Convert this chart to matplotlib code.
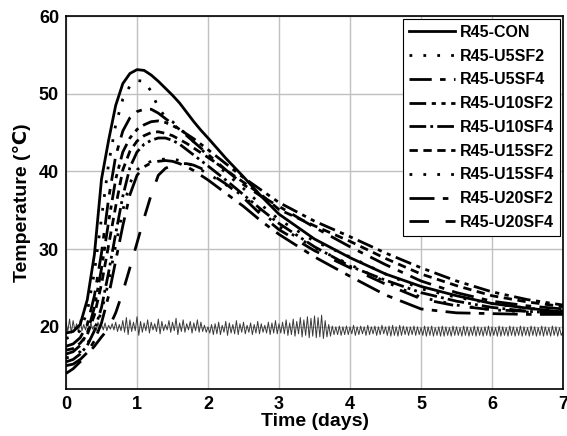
import numpy as np
import matplotlib
matplotlib.use("Agg")
import matplotlib.pyplot as plt

plt.rcParams["font.family"] = ["Liberation Sans", "DejaVu Sans"]

# time grid (days) shared by the mix curves
days = [0, 0.1, 0.2, 0.3, 0.4, 0.5, 0.6, 0.7, 0.8, 0.9, 1.0, 1.1, 1.2, 1.3, 1.4,
        1.5, 1.6, 1.7, 1.8, 1.9, 2.0, 2.25, 2.5, 2.75, 3.0, 3.5, 4.0, 4.5, 5.0,
        5.5, 6.0, 6.5, 7.0]

con = [19.2, 19.4, 20.3, 23.5, 29.3, 39.0, 44.0, 48.5, 51.3, 52.6, 53.1, 53.0,
       52.4, 51.6, 50.7, 49.8, 48.8, 47.6, 46.4, 45.3, 44.3, 41.7, 39.3, 36.8,
       34.5, 31.3, 28.9, 26.8, 25.2, 24.0, 23.0, 22.4, 21.9]
u5sf2 = [18.5, 18.8, 19.5, 22.0, 27.0, 34.0, 41.0, 46.0, 49.3, 51.0, 51.7, 51.6,
         50.3, 48.2, 47.0, 46.4, 45.6, 44.7, 43.8, 42.9, 42.0, 39.8, 37.8, 35.7,
         33.8, 31.0, 29.0, 26.8, 24.9, 23.8, 23.0, 22.4, 22.0]
u5sf4 = [17.5, 17.8, 18.6, 20.3, 24.0, 29.5, 36.5, 42.0, 45.2, 46.9, 47.7, 48.0,
         48.0, 47.5, 46.8, 46.1, 45.4, 44.6, 43.8, 43.0, 42.2, 40.2, 38.3, 36.8,
         35.5, 32.8, 30.3, 28.0, 25.9, 24.4, 23.3, 22.7, 22.3]
u10sf2 = [16.5, 16.8, 17.6, 19.2, 22.5, 27.5, 33.5, 39.0, 42.5, 44.3, 45.4, 46.0,
          46.4, 46.5, 46.3, 45.9, 45.4, 44.8, 44.2, 43.5, 42.8, 41.0, 39.2, 37.6,
          36.0, 33.6, 31.6, 29.5, 27.6, 25.9, 24.5, 23.5, 22.8]
u10sf4 = [15.5, 15.8, 16.5, 17.6, 19.5, 22.5, 27.0, 32.0, 36.8, 40.5, 42.5, 43.5,
          44.0, 44.3, 44.3, 44.0, 43.5, 42.8, 42.1, 41.4, 40.7, 38.9, 37.0, 35.1,
          33.3, 30.3, 27.8, 26.0, 24.4, 23.3, 22.5, 22.0, 21.7]
u15sf2 = [17.0, 17.2, 17.9, 19.0, 21.5, 25.5, 30.5, 35.5, 40.2, 42.6, 43.9, 44.6,
          45.0, 45.1, 44.9, 44.6, 44.1, 43.6, 43.0, 42.4, 41.8, 40.2, 38.6, 37.0,
          35.1, 33.0, 31.0, 28.8, 26.8, 25.3, 24.0, 23.2, 22.6]
u15sf4 = [16.0, 16.2, 16.8, 17.8, 19.5, 22.0, 25.8, 30.5, 35.0, 38.5, 40.2, 40.9,
          41.3, 41.5, 41.6, 41.6, 41.4, 41.1, 40.7, 40.2, 39.7, 38.3, 36.8, 34.8,
          32.9, 30.2, 28.0, 25.8, 23.8, 22.8, 22.2, 21.9, 21.8]
u20sf2 = [15.0, 15.2, 15.8, 16.7, 18.2, 20.5, 24.0, 28.5, 33.0, 37.0, 39.5, 40.6,
          41.1, 41.3, 41.4, 41.3, 41.0, 40.6, 40.1, 39.5, 38.9, 37.2, 35.5, 33.6,
          31.9, 29.0, 26.5, 24.1, 22.3, 21.8, 21.7, 21.6, 21.6]
u20sf4 = [14.0, 14.6, 15.5, 16.5, 17.5, 18.7, 19.8, 21.8, 24.5, 27.6, 30.8, 34.0,
          37.0, 39.5, 40.4, 40.8, 41.0, 41.0, 40.8, 40.4, 39.9, 38.4, 36.6, 34.4,
          32.5, 29.8, 27.6, 25.5, 23.6, 22.7, 22.2, 22.0, 21.9]

labels = ["R45-CON", "R45-U5SF2", "R45-U5SF4", "R45-U10SF2", "R45-U10SF4",
          "R45-U15SF2", "R45-U15SF4", "R45-U20SF2", "R45-U20SF4"]
series = [con, u5sf2, u5sf4, u10sf2, u10sf4, u15sf2, u15sf4, u20sf2, u20sf4]
styles = ["-", (0, (1, 4)), (0, (8, 3, 2, 3)), (0, (6, 2, 1.5, 2, 1.5, 2)),
          (0, (6, 1.5, 1, 1.5, 6, 1.5, 1, 1.5, 1, 1.5)), (0, (3, 2)),
          (0, (1, 4)), (0, (9, 3, 2, 3)), (0, (7, 6))]

# ambient temperature record (every 0.025 day)
ambient = [
    20.6, 19.4, 21.0, 19.2, 20.8, 19.6, 20.4, 19.3, 20.9, 19.5, 20.3, 19.6, 20.7, 19.4, 20.5, 19.7, 20.2, 19.5, 20.6, 19.8,
    20.3, 19.6, 20.5, 19.5, 20.2, 19.7, 20.4, 19.6, 20.6, 19.4, 20.3, 19.5, 20.8, 19.3, 21.2, 19.0, 20.9, 19.4, 20.6, 19.5,
    21.3, 18.9, 20.7, 19.3, 20.5, 19.5, 20.9, 19.2, 20.6, 19.6, 20.4, 19.4, 21.0, 19.1, 20.7, 19.5, 20.3, 19.6, 20.8, 19.3,
    20.6, 19.5, 21.1, 19.0, 20.5, 19.4, 20.9, 19.3, 20.4, 19.6, 20.7, 19.2, 20.5, 19.5, 20.9, 19.3, 20.6, 19.4, 20.2, 19.3,
    20.0, 19.2, 20.3, 19.0, 20.4, 19.1, 20.6, 19.0, 20.2, 19.3, 20.7, 18.9, 20.5, 19.2, 20.3, 19.1, 20.8, 19.0, 20.4, 19.3,
    20.6, 19.1, 20.2, 19.3, 20.5, 19.0, 20.3, 19.2, 20.7, 19.1, 20.4, 19.3, 20.2, 19.2, 20.6, 19.0, 20.5, 19.2, 20.8, 19.1,
    20.4, 19.2, 20.6, 19.1, 20.9, 18.9, 20.5, 19.0, 21.0, 18.8, 20.7, 19.1, 21.2, 18.7, 20.9, 18.9, 21.3, 18.6, 21.1, 18.8,
    21.4, 18.6, 21.2, 18.7, 21.5, 18.5, 20.8, 18.7, 20.3, 18.8, 20.1, 19.0, 20.0, 19.0, 20.1, 18.9, 20.0, 19.0, 20.1, 19.0,
    20.0, 19.1, 20.2, 18.9, 20.0, 19.0, 20.1, 19.1, 20.0, 18.9, 20.2, 19.0, 20.0, 19.1, 20.1, 18.9, 20.0, 19.0, 20.2, 19.1,
    20.0, 18.9, 20.1, 18.8, 20.2, 18.9, 20.0, 18.8, 20.2, 18.9, 20.1, 19.0, 20.0, 18.9, 20.0, 19.0, 20.1, 18.9, 20.0, 19.0,
    19.9, 18.9, 20.1, 18.8, 20.0, 18.9, 20.1, 18.8, 19.9, 18.9, 20.0, 18.8, 20.1, 18.8, 20.0, 18.9, 19.9, 18.8, 20.1, 18.9,
    20.0, 18.9, 19.9, 18.8, 20.1, 18.9, 20.0, 18.8, 19.9, 18.9, 20.1, 18.8, 20.0, 18.9, 19.9, 18.8, 20.0, 18.9, 20.1, 18.8,
    20.0, 18.9, 19.9, 18.8, 20.1, 18.8, 20.0, 18.9, 19.9, 18.8, 20.1, 18.9, 20.0, 18.8, 19.9, 18.9, 20.1, 18.8, 20.0, 18.9,
    19.9, 18.8, 20.1, 18.9, 20.0, 18.8, 19.9, 18.9, 20.1, 18.8, 20.0, 18.9, 19.9, 18.8, 20.1, 18.9, 20.0, 18.8, 19.9, 18.9,
    19.4]
ambient_days = np.linspace(0, 7, len(ambient))

fig = plt.figure(figsize=(5.67, 4.36), dpi=100)
ax = fig.add_axes([0.1164, 0.1078, 0.8766, 0.8555])

ax.plot(ambient_days, ambient, color="#3a3a3a", lw=0.7, zorder=2)
for vals, lab, ls in zip(series, labels, styles):
    ax.plot(days, vals, color="black", lw=2, linestyle=ls, label=lab, zorder=3)

ax.set_xlim(0, 7)
ax.set_ylim(12, 60)
ax.set_xticks(range(0, 8))
ax.set_yticks([20, 30, 40, 50, 60])
ax.grid(True, color="#c0c0c0", lw=1)
ax.set_axisbelow(True)
ax.tick_params(length=0, labelsize=13, pad=5)
for lab in ax.get_xticklabels() + ax.get_yticklabels():
    lab.set_fontweight("bold")
for sp in ax.spines.values():
    sp.set_linewidth(1.2)
    sp.set_color("black")

ax.set_xlabel("Time (days)", fontsize=14, fontweight="bold", labelpad=0)
ax.set_ylabel("Temperature (℃)", fontsize=14, fontweight="bold", labelpad=6)

leg = ax.legend(loc="upper right", prop={"weight": "bold", "size": 11.5},
                handlelength=2.9, labelspacing=0.55, borderaxespad=0.2,
                borderpad=0.35, fancybox=False, edgecolor="black",
                framealpha=1, handletextpad=0.3)
leg.get_frame().set_linewidth(0.8)

fig.savefig("out.png", dpi=100)
plt.close()
